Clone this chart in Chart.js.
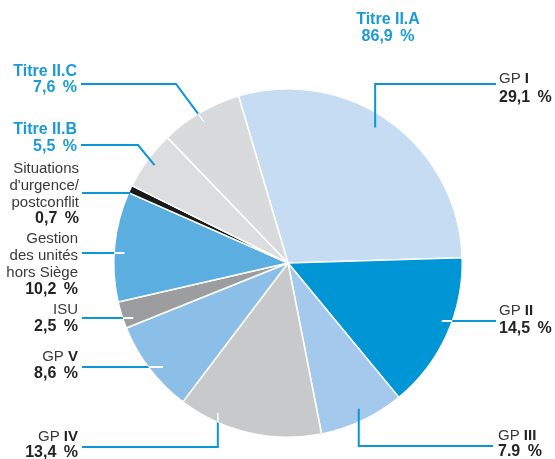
<!DOCTYPE html>
<html><head><meta charset="utf-8">
<script src="https://cdn.jsdelivr.net/npm/chart.js@4.4.0/dist/chart.umd.min.js"></script>
<style>html,body{margin:0;padding:0;background:#fff;}#wrap{width:555px;height:459px;}</style>
</head><body><div id="wrap"><canvas id="c" width="555" height="459"></canvas></div>
<script>
const categories = ['GP I','GP II','GP III','GP IV','GP V','ISU','Gestion des unités hors Siège',"Situations d'urgence/postconflit",'Titre II.B','Titre II.C'];
const values = [29.1, 14.5, 7.9, 13.4, 8.6, 2.5, 10.2, 0.7, 5.5, 7.6];
const valueLabels = ['29,1 %','14,5 %','7.9 %','13,4 %','8,6 %','2,5 %','10,2 %','0,7 %','5,5 %','7,6 %'];
const groupLabel = ['Titre II.A','86,9 %'];
const colors = ['#c5dcf2','#0096d6','#a4c9ec','#c8c9cb','#8cbfe8','#9c9d9f','#5aaee0','#1a1a1a','#dcdddf','#d9dadc'];

const BLUE = '#1a9ad7', LINE = '#0a97d8', TXT = '#3a3a3a', BOLD = '#242424';
const FN = '15px "Liberation Sans", Arial, sans-serif';
const FB = 'bold 15px "Liberation Sans", Arial, sans-serif';
const FV = 'bold 16px "Liberation Sans", Arial, sans-serif';

// run kinds: 0 normal, 1 bold, 2 big bold (values / titles)
const layout = [
 {i:0, x:499, align:'left', ys:[79,98], name:[[['GP ',0],['I',1]]], start:[0.47,0.925], path:'v', lineY:84, endX:496},
 {i:1, x:499, align:'left', ys:[311,329], name:[[['GP ',0],['II',1]]], start:[0.42,0.94], path:'h', lineY:321, endX:496, inner:true},
 {i:2, x:498, align:'left', ys:[436,452], name:[[['GP ',0],['III',1]]], start:[0.48,0.93], path:'v', lineY:446, endX:493},
 {i:3, x:78, align:'right', ys:[437,453], name:[[['GP ',0],['IV',1]]], start:[0.75,0.95], path:'v', lineY:447, endX:82, inner:true},
 {i:4, x:78, align:'right', ys:[357,374], name:[[['GP ',0],['V',1]]], start:[0.42,0.935], path:'h', lineY:367, endX:82, inner:true},
 {i:5, x:78, align:'right', ys:[310,327], name:[[['ISU',0]]], start:[0.3,0.94], path:'h', lineY:318, endX:82, inner:true},
 {i:6, x:78, align:'right', ys:[239,256,273,290], name:[[['Gestion',0]],[['des unités',0]],[['hors Siège',0]]], start:[0.45,0.94], path:'h', lineY:253, endX:82, inner:true},
 {i:7, x:79, align:'right', ys:[169,186,203,219], name:[[['Situations',0]],[["d'urgence/",0]],[['postconflit',0]]], start:[0.5,1.0], path:'h', lineY:193, endX:82},
 {i:8, x:77, align:'right', ys:[130,147], blue:true, name:[[['Titre II.B',2]]], start:[0.5,0.95], path:'d', elbowX:138, lineY:145, endX:81},
 {i:9, x:77, align:'right', ys:[72,88], blue:true, name:[[['Titre II.C',2]]], start:[0.48,0.94], path:'d', elbowX:176, lineY:84, endX:81, inner:true}
];

function fontOf(k){ return k === 2 ? FV : (k === 1 ? FB : FN); }
function drawRuns(ctx, runs, x, y, align, color, boldColor, ws){
  if ('wordSpacing' in ctx) ctx.wordSpacing = ws || '0px';
  let total = 0;
  runs.forEach(r => { ctx.font = fontOf(r[1]); total += ctx.measureText(r[0]).width; });
  let cx = align === 'right' ? x - total : (align === 'center' ? x - total/2 : x);
  ctx.textAlign = 'left';
  runs.forEach(r => {
    ctx.font = fontOf(r[1]);
    ctx.fillStyle = r[1] ? boldColor : color;
    ctx.fillText(r[0], cx, y);
    cx += ctx.measureText(r[0]).width;
  });
}

const labelPlugin = {
  id: 'labels',
  afterDraw(chart){
    const ctx = chart.ctx;
    const meta = chart.getDatasetMeta(0);
    const a0 = meta.data[0];
    const cx = a0.x, cy = a0.y, R = a0.outerRadius;
    ctx.save();
    ctx.textBaseline = 'middle';
    layout.forEach(L => {
      const arc = meta.data[L.i];
      const ang = arc.startAngle + (arc.endAngle - arc.startAngle) * L.start[0];
      const r = R * L.start[1];
      const sx = cx + r * Math.cos(ang), sy = cy + r * Math.sin(ang);
      let pts;
      if (L.path === 'v') pts = [[sx, sy], [sx, L.lineY], [L.endX, L.lineY]];
      else if (L.path === 'd') pts = [[sx, sy], [L.elbowX, L.lineY], [L.endX, L.lineY]];
      else pts = [[sx, L.lineY], [L.endX, L.lineY]];
      const path = () => { ctx.beginPath(); ctx.moveTo(pts[0][0], pts[0][1]); for (let k = 1; k < pts.length; k++) ctx.lineTo(pts[k][0], pts[k][1]); };
      ctx.lineWidth = 2; ctx.lineJoin = 'miter'; ctx.lineCap = 'butt';
      ctx.strokeStyle = LINE; path(); ctx.stroke();
      if (L.inner) {
        ctx.save();
        ctx.beginPath(); ctx.arc(cx, cy, R, 0, Math.PI * 2); ctx.clip();
        ctx.strokeStyle = '#ffffff'; path(); ctx.stroke();
        ctx.restore();
      }
      const col = L.blue ? BLUE : TXT, bcol = L.blue ? BLUE : BOLD;
      L.name.forEach((runs, k) => drawRuns(ctx, runs, L.x, L.ys[k], L.align, col, bcol));
      drawRuns(ctx, [[valueLabels[L.i], 2]], L.x, L.ys[L.name.length], L.align, col, bcol, '3px');
    });
    drawRuns(ctx, [[groupLabel[0], 2]], 388, 20, 'center', BLUE, BLUE);
    drawRuns(ctx, [[groupLabel[1], 2]], 388, 37, 'center', BLUE, BLUE, '3px');
    ctx.restore();
  }
};

new Chart(document.getElementById('c'), {
  type: 'pie',
  data: { labels: categories, datasets: [{ data: values, backgroundColor: colors, borderColor: '#ffffff', borderWidth: 1.5 }] },
  options: {
    responsive: false,
    animation: false,
    devicePixelRatio: 1,
    rotation: -16.5,
    layout: { padding: { left: 113, right: 92, top: 88, bottom: 21 } },
    plugins: { legend: { display: false }, tooltip: { enabled: false } }
  },
  plugins: [labelPlugin]
});
</script>
</body></html>
